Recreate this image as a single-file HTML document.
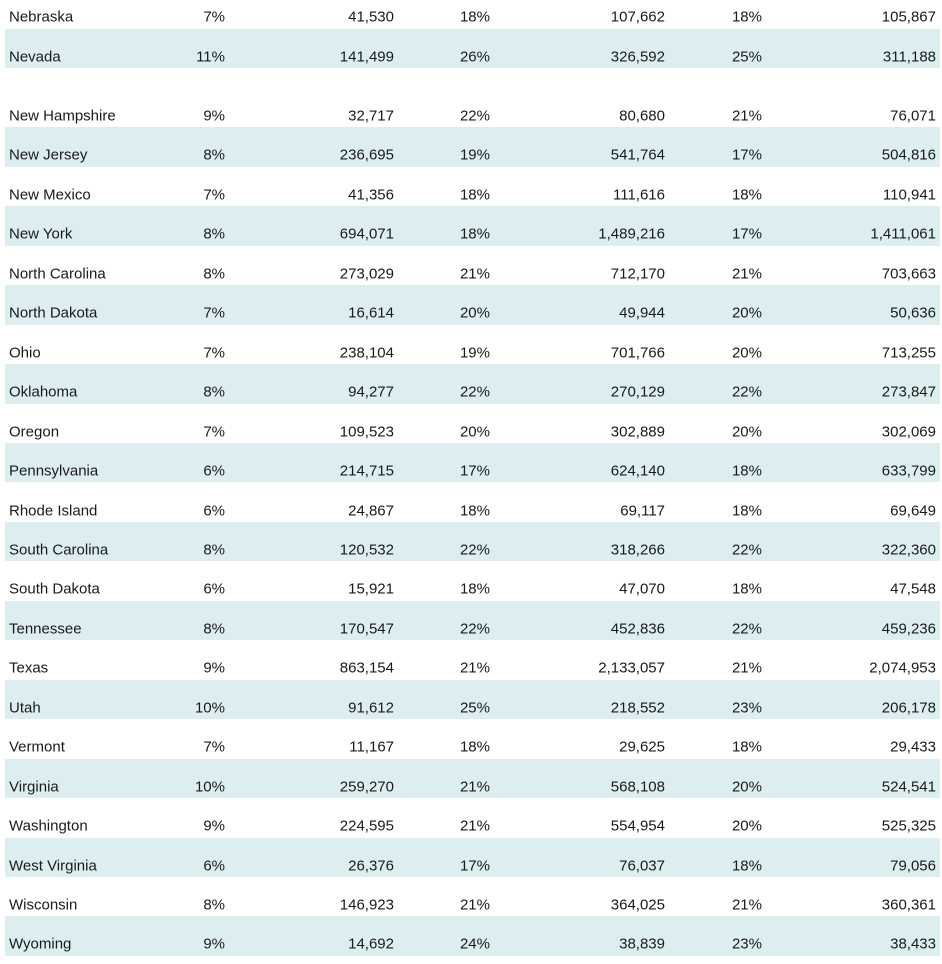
<!DOCTYPE html>
<html><head><meta charset="utf-8"><style>
body{margin:0;width:942px;height:964px;background:#fff;overflow:hidden;font-family:"Liberation Sans",Arial,sans-serif;font-size:15px;color:#1a1a1a;position:relative}
.r{position:absolute;left:5px;width:935px;height:39.45px}
.s{background:#ddeef1}
.r span{position:absolute;top:28px;transform:translateY(-50%);white-space:nowrap}
.n{left:4px}
.a{right:715px}.b{right:546px}.c{right:450px}.d{right:275px}.e{right:178px}.f{right:4px}
</style></head><body>
<div id="t"></div>
<script>
var d=[["Nebraska","7%","41,530","18%","107,662","18%","105,867"],
["Nevada","11%","141,499","26%","326,592","25%","311,188"],
["New Hampshire","9%","32,717","22%","80,680","21%","76,071"],
["New Jersey","8%","236,695","19%","541,764","17%","504,816"],
["New Mexico","7%","41,356","18%","111,616","18%","110,941"],
["New York","8%","694,071","18%","1,489,216","17%","1,411,061"],
["North Carolina","8%","273,029","21%","712,170","21%","703,663"],
["North Dakota","7%","16,614","20%","49,944","20%","50,636"],
["Ohio","7%","238,104","19%","701,766","20%","713,255"],
["Oklahoma","8%","94,277","22%","270,129","22%","273,847"],
["Oregon","7%","109,523","20%","302,889","20%","302,069"],
["Pennsylvania","6%","214,715","17%","624,140","18%","633,799"],
["Rhode Island","6%","24,867","18%","69,117","18%","69,649"],
["South Carolina","8%","120,532","22%","318,266","22%","322,360"],
["South Dakota","6%","15,921","18%","47,070","18%","47,548"],
["Tennessee","8%","170,547","22%","452,836","22%","459,236"],
["Texas","9%","863,154","21%","2,133,057","21%","2,074,953"],
["Utah","10%","91,612","25%","218,552","23%","206,178"],
["Vermont","7%","11,167","18%","29,625","18%","29,433"],
["Virginia","10%","259,270","21%","568,108","20%","524,541"],
["Washington","9%","224,595","21%","554,954","20%","525,325"],
["West Virginia","6%","26,376","17%","76,037","18%","79,056"],
["Wisconsin","8%","146,923","21%","364,025","21%","360,361"],
["Wyoming","9%","14,692","24%","38,839","23%","38,433"]];
var cls=["n","a","b","c","d","e","f"],h="";
d.forEach(function(r,i){var top=i==0?-11:(i==1?29:(88+(i-2)*39.45));var sh=(i==1)||(i>=3&&(i-3)%2==0);
h+='<div class="r'+(sh?' s':'')+'" style="top:'+top+'px">';
r.forEach(function(v,j){h+='<span class="'+cls[j]+'">'+v+'</span>'});h+='</div>'});
document.getElementById('t').innerHTML=h;
</script>
</body></html>
